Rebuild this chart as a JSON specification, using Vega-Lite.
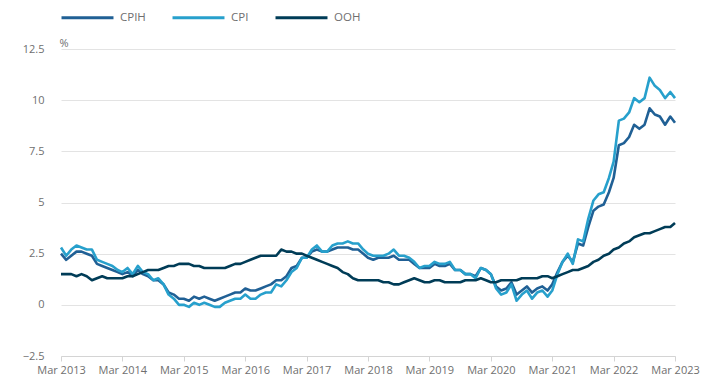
{
  "$schema": "https://vega.github.io/schema/vega-lite/v6.json",
  "width": 614,
  "height": 307,
  "autosize": {"type": "none"},
  "padding": {"left": 61, "top": 49, "right": 35, "bottom": 32},
  "background": "white",
  "config": {
    "view": {"stroke": null},
    "font": "Open Sans",
    "axis": {"labelFont": "Open Sans", "titleFont": "Open Sans", "labelColor": "#6f6f6f", "titleColor": "#6f6f6f"}
  },
  "data": {"values": [
    {"d":"2013-03","CPIH":2.5,"CPI":2.8,"OOH":1.5},
    {"d":"2013-04","CPIH":2.2,"CPI":2.4,"OOH":1.5},
    {"d":"2013-05","CPIH":2.4,"CPI":2.7,"OOH":1.5},
    {"d":"2013-06","CPIH":2.6,"CPI":2.9,"OOH":1.4},
    {"d":"2013-07","CPIH":2.6,"CPI":2.8,"OOH":1.5},
    {"d":"2013-08","CPIH":2.5,"CPI":2.7,"OOH":1.4},
    {"d":"2013-09","CPIH":2.4,"CPI":2.7,"OOH":1.2},
    {"d":"2013-10","CPIH":2.0,"CPI":2.2,"OOH":1.3},
    {"d":"2013-11","CPIH":1.9,"CPI":2.1,"OOH":1.4},
    {"d":"2013-12","CPIH":1.8,"CPI":2.0,"OOH":1.3},
    {"d":"2014-01","CPIH":1.7,"CPI":1.9,"OOH":1.3},
    {"d":"2014-02","CPIH":1.6,"CPI":1.7,"OOH":1.3},
    {"d":"2014-03","CPIH":1.5,"CPI":1.6,"OOH":1.3},
    {"d":"2014-04","CPIH":1.6,"CPI":1.8,"OOH":1.4},
    {"d":"2014-05","CPIH":1.4,"CPI":1.5,"OOH":1.4},
    {"d":"2014-06","CPIH":1.7,"CPI":1.9,"OOH":1.5},
    {"d":"2014-07","CPIH":1.5,"CPI":1.6,"OOH":1.6},
    {"d":"2014-08","CPIH":1.4,"CPI":1.5,"OOH":1.7},
    {"d":"2014-09","CPIH":1.2,"CPI":1.2,"OOH":1.7},
    {"d":"2014-10","CPIH":1.2,"CPI":1.3,"OOH":1.7},
    {"d":"2014-11","CPIH":1.0,"CPI":1.0,"OOH":1.8},
    {"d":"2014-12","CPIH":0.6,"CPI":0.5,"OOH":1.9},
    {"d":"2015-01","CPIH":0.5,"CPI":0.3,"OOH":1.9},
    {"d":"2015-02","CPIH":0.3,"CPI":0.0,"OOH":2.0},
    {"d":"2015-03","CPIH":0.3,"CPI":0.0,"OOH":2.0},
    {"d":"2015-04","CPIH":0.2,"CPI":-0.1,"OOH":2.0},
    {"d":"2015-05","CPIH":0.4,"CPI":0.1,"OOH":1.9},
    {"d":"2015-06","CPIH":0.3,"CPI":0.0,"OOH":1.9},
    {"d":"2015-07","CPIH":0.4,"CPI":0.1,"OOH":1.8},
    {"d":"2015-08","CPIH":0.3,"CPI":0.0,"OOH":1.8},
    {"d":"2015-09","CPIH":0.2,"CPI":-0.1,"OOH":1.8},
    {"d":"2015-10","CPIH":0.3,"CPI":-0.1,"OOH":1.8},
    {"d":"2015-11","CPIH":0.4,"CPI":0.1,"OOH":1.8},
    {"d":"2015-12","CPIH":0.5,"CPI":0.2,"OOH":1.9},
    {"d":"2016-01","CPIH":0.6,"CPI":0.3,"OOH":2.0},
    {"d":"2016-02","CPIH":0.6,"CPI":0.3,"OOH":2.0},
    {"d":"2016-03","CPIH":0.8,"CPI":0.5,"OOH":2.1},
    {"d":"2016-04","CPIH":0.7,"CPI":0.3,"OOH":2.2},
    {"d":"2016-05","CPIH":0.7,"CPI":0.3,"OOH":2.3},
    {"d":"2016-06","CPIH":0.8,"CPI":0.5,"OOH":2.4},
    {"d":"2016-07","CPIH":0.9,"CPI":0.6,"OOH":2.4},
    {"d":"2016-08","CPIH":1.0,"CPI":0.6,"OOH":2.4},
    {"d":"2016-09","CPIH":1.2,"CPI":1.0,"OOH":2.4},
    {"d":"2016-10","CPIH":1.2,"CPI":0.9,"OOH":2.7},
    {"d":"2016-11","CPIH":1.4,"CPI":1.2,"OOH":2.6},
    {"d":"2016-12","CPIH":1.8,"CPI":1.6,"OOH":2.6},
    {"d":"2017-01","CPIH":1.9,"CPI":1.8,"OOH":2.5},
    {"d":"2017-02","CPIH":2.3,"CPI":2.3,"OOH":2.5},
    {"d":"2017-03","CPIH":2.3,"CPI":2.3,"OOH":2.4},
    {"d":"2017-04","CPIH":2.6,"CPI":2.7,"OOH":2.3},
    {"d":"2017-05","CPIH":2.7,"CPI":2.9,"OOH":2.2},
    {"d":"2017-06","CPIH":2.6,"CPI":2.6,"OOH":2.1},
    {"d":"2017-07","CPIH":2.6,"CPI":2.6,"OOH":2.0},
    {"d":"2017-08","CPIH":2.7,"CPI":2.9,"OOH":1.9},
    {"d":"2017-09","CPIH":2.8,"CPI":3.0,"OOH":1.8},
    {"d":"2017-10","CPIH":2.8,"CPI":3.0,"OOH":1.6},
    {"d":"2017-11","CPIH":2.8,"CPI":3.1,"OOH":1.5},
    {"d":"2017-12","CPIH":2.7,"CPI":3.0,"OOH":1.3},
    {"d":"2018-01","CPIH":2.7,"CPI":3.0,"OOH":1.2},
    {"d":"2018-02","CPIH":2.5,"CPI":2.7,"OOH":1.2},
    {"d":"2018-03","CPIH":2.3,"CPI":2.5,"OOH":1.2},
    {"d":"2018-04","CPIH":2.2,"CPI":2.4,"OOH":1.2},
    {"d":"2018-05","CPIH":2.3,"CPI":2.4,"OOH":1.2},
    {"d":"2018-06","CPIH":2.3,"CPI":2.4,"OOH":1.1},
    {"d":"2018-07","CPIH":2.3,"CPI":2.5,"OOH":1.1},
    {"d":"2018-08","CPIH":2.4,"CPI":2.7,"OOH":1.0},
    {"d":"2018-09","CPIH":2.2,"CPI":2.4,"OOH":1.0},
    {"d":"2018-10","CPIH":2.2,"CPI":2.4,"OOH":1.1},
    {"d":"2018-11","CPIH":2.2,"CPI":2.3,"OOH":1.2},
    {"d":"2018-12","CPIH":2.0,"CPI":2.1,"OOH":1.3},
    {"d":"2019-01","CPIH":1.8,"CPI":1.8,"OOH":1.2},
    {"d":"2019-02","CPIH":1.8,"CPI":1.9,"OOH":1.1},
    {"d":"2019-03","CPIH":1.8,"CPI":1.9,"OOH":1.1},
    {"d":"2019-04","CPIH":2.0,"CPI":2.1,"OOH":1.2},
    {"d":"2019-05","CPIH":1.9,"CPI":2.0,"OOH":1.2},
    {"d":"2019-06","CPIH":1.9,"CPI":2.0,"OOH":1.1},
    {"d":"2019-07","CPIH":2.0,"CPI":2.1,"OOH":1.1},
    {"d":"2019-08","CPIH":1.7,"CPI":1.7,"OOH":1.1},
    {"d":"2019-09","CPIH":1.7,"CPI":1.7,"OOH":1.1},
    {"d":"2019-10","CPIH":1.5,"CPI":1.5,"OOH":1.2},
    {"d":"2019-11","CPIH":1.5,"CPI":1.5,"OOH":1.2},
    {"d":"2019-12","CPIH":1.4,"CPI":1.3,"OOH":1.2},
    {"d":"2020-01","CPIH":1.8,"CPI":1.8,"OOH":1.3},
    {"d":"2020-02","CPIH":1.7,"CPI":1.7,"OOH":1.2},
    {"d":"2020-03","CPIH":1.5,"CPI":1.5,"OOH":1.1},
    {"d":"2020-04","CPIH":0.9,"CPI":0.8,"OOH":1.1},
    {"d":"2020-05","CPIH":0.7,"CPI":0.5,"OOH":1.2},
    {"d":"2020-06","CPIH":0.8,"CPI":0.6,"OOH":1.2},
    {"d":"2020-07","CPIH":1.1,"CPI":1.0,"OOH":1.2},
    {"d":"2020-08","CPIH":0.5,"CPI":0.2,"OOH":1.2},
    {"d":"2020-09","CPIH":0.7,"CPI":0.5,"OOH":1.3},
    {"d":"2020-10","CPIH":0.9,"CPI":0.7,"OOH":1.3},
    {"d":"2020-11","CPIH":0.6,"CPI":0.3,"OOH":1.3},
    {"d":"2020-12","CPIH":0.8,"CPI":0.6,"OOH":1.3},
    {"d":"2021-01","CPIH":0.9,"CPI":0.7,"OOH":1.4},
    {"d":"2021-02","CPIH":0.7,"CPI":0.4,"OOH":1.4},
    {"d":"2021-03","CPIH":1.0,"CPI":0.7,"OOH":1.3},
    {"d":"2021-04","CPIH":1.6,"CPI":1.5,"OOH":1.4},
    {"d":"2021-05","CPIH":2.1,"CPI":2.1,"OOH":1.5},
    {"d":"2021-06","CPIH":2.4,"CPI":2.5,"OOH":1.6},
    {"d":"2021-07","CPIH":2.1,"CPI":2.0,"OOH":1.7},
    {"d":"2021-08","CPIH":3.0,"CPI":3.2,"OOH":1.7},
    {"d":"2021-09","CPIH":2.9,"CPI":3.1,"OOH":1.8},
    {"d":"2021-10","CPIH":3.8,"CPI":4.2,"OOH":1.9},
    {"d":"2021-11","CPIH":4.6,"CPI":5.1,"OOH":2.1},
    {"d":"2021-12","CPIH":4.8,"CPI":5.4,"OOH":2.2},
    {"d":"2022-01","CPIH":4.9,"CPI":5.5,"OOH":2.4},
    {"d":"2022-02","CPIH":5.5,"CPI":6.2,"OOH":2.5},
    {"d":"2022-03","CPIH":6.2,"CPI":7.0,"OOH":2.7},
    {"d":"2022-04","CPIH":7.8,"CPI":9.0,"OOH":2.8},
    {"d":"2022-05","CPIH":7.9,"CPI":9.1,"OOH":3.0},
    {"d":"2022-06","CPIH":8.2,"CPI":9.4,"OOH":3.1},
    {"d":"2022-07","CPIH":8.8,"CPI":10.1,"OOH":3.3},
    {"d":"2022-08","CPIH":8.6,"CPI":9.9,"OOH":3.4},
    {"d":"2022-09","CPIH":8.8,"CPI":10.1,"OOH":3.5},
    {"d":"2022-10","CPIH":9.6,"CPI":11.1,"OOH":3.5},
    {"d":"2022-11","CPIH":9.3,"CPI":10.7,"OOH":3.6},
    {"d":"2022-12","CPIH":9.2,"CPI":10.5,"OOH":3.7},
    {"d":"2023-01","CPIH":8.8,"CPI":10.1,"OOH":3.8},
    {"d":"2023-02","CPIH":9.2,"CPI":10.4,"OOH":3.8},
    {"d":"2023-03","CPIH":8.9,"CPI":10.1,"OOH":4.0}
  ]},
  "transform": [{"fold": ["CPIH", "CPI", "OOH"], "as": ["series", "value"]}],
  "mark": {"type": "line", "strokeWidth": 2.6, "strokeJoin": "round"},
  "encoding": {
    "x": {
      "field": "d", "type": "temporal",
      "scale": {"domain": ["2013-03", "2023-03"]},
      "axis": {
        "title": null,
        "values": ["2013-03","2014-03","2015-03","2016-03","2017-03","2018-03","2019-03","2020-03","2021-03","2022-03","2023-03"],
        "format": "%b %Y",
        "grid": false,
        "domainColor": "#d4d4d4",
        "tickColor": "#d4d4d4",
        "tickSize": 5,
        "labelFontSize": 11,
        "labelPadding": 3,
        "labelFlush": false,
        "labelOverlap": false
      }
    },
    "y": {
      "field": "value", "type": "quantitative",
      "scale": {"domain": [-2.5, 12.5], "nice": false, "zero": false},
      "axis": {
        "title": "%",
        "titleAngle": 0,
        "titleAlign": "left",
        "titleBaseline": "alphabetic",
        "titleX": -2,
        "titleY": -3,
        "titleFontSize": 11,
        "titleFontWeight": "normal",
        "values": [-2.5, 0, 2.5, 5, 7.5, 10, 12.5],
        "labelExpr": "datum.value === 0 ? '0' : format(datum.value, '.2~f')",
        "domain": false,
        "ticks": false,
        "gridColor": "#e3e3e3",
        "labelFontSize": 11,
        "labelPadding": 17
      }
    },
    "color": {
      "field": "series", "type": "nominal",
      "scale": {"domain": ["CPIH", "CPI", "OOH"], "range": ["#206095", "#27a0cc", "#003c57"]},
      "legend": {
        "title": null,
        "orient": "none",
        "direction": "horizontal",
        "legendX": -1,
        "legendY": -59,
        "symbolType": "stroke",
        "symbolSize": 2700,
        "symbolStrokeWidth": 3,
        "labelFontSize": 11.5,
        "labelColor": "#6f6f6f",
        "labelFont": "Open Sans",
        "labelOffset": 5,
        "columnPadding": 20
      }
    }
  }
}
